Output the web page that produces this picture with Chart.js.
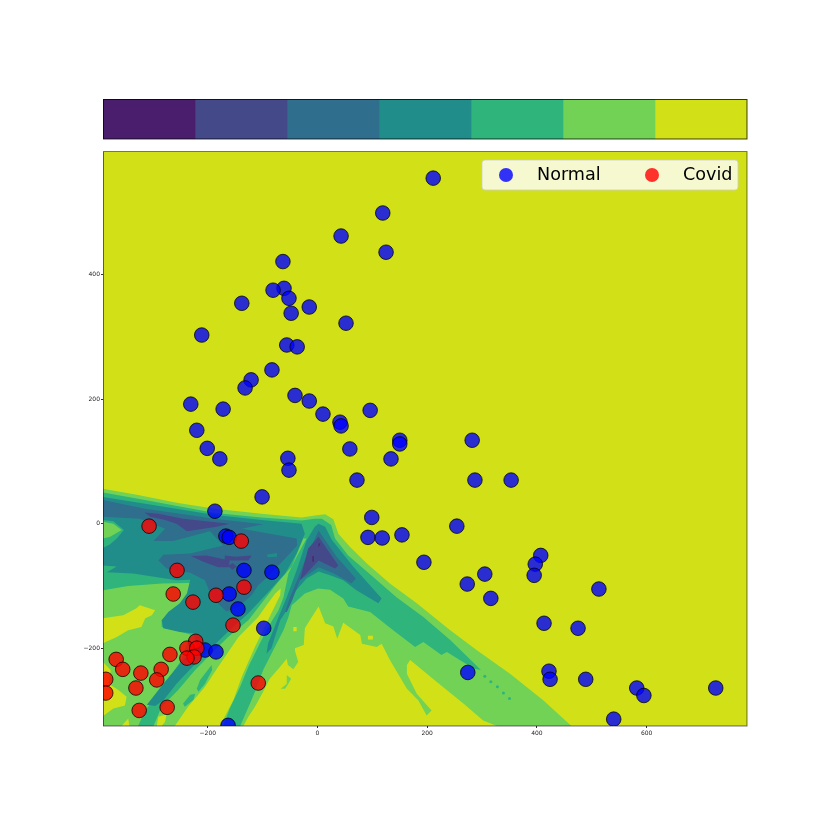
<!DOCTYPE html>
<html>
<head>
<meta charset="utf-8">
<title>Normal / Covid</title>
<script src="https://cdn.jsdelivr.net/npm/chart.js@4/dist/chart.umd.min.js"></script>
<style>
    html, body { margin: 0; padding: 0; background: #fff; }
    #wrap { position: relative; width: 830px; height: 830px; }
    canvas { position: absolute; left: 0; top: 0; }
</style>
</head>
<body>
<div id="wrap">
    <canvas id="mainChart" width="830" height="830"></canvas>
    <canvas id="barChart" width="830" height="150"></canvas>
</div>
<script>
// scatter points
const normalPoints = [
    [211,555],[119,499],[125,436],[43,462],[-63,421],[-61,378],[-81,375],[-52,362],[-48,338],[-15,348],
    [52,322],[-138,354],[-211,303],[-56,287],[-37,284],[-83,247],[-121,231],[-132,218],[-41,206],[-15,197],
    [10,176],[-231,192],[-172,184],[-220,150],[-201,121],[-178,104],[41,163],[43,157],[96,182],[150,134],
    [150,128],[59,120],[134,104],[-54,105],[-52,86],[72,70],[282,134],[287,70],[353,70],[-101,43],
    [-187,20],[99,10],[254,-4],[92,-22],[118,-23],[154,-18],[194,-62],[407,-51],[397,-65],[395,-83],
    [273,-97],[305,-81],[316,-120],[513,-105],[413,-160],[475,-168],[422,-237],[424,-250],[489,-250],[274,-239],
    [582,-264],[595,-276],[726,-264],[540,-314],[-163,-324],[-167,-20],[-161,-22],[-134,-75],[-83,-78],[-161,-113],
    [-145,-137],[-98,-168],[-205,-203],[-185,-206]
];
const covidPoints = [
    [-307,-4],[-139,-28],[-256,-75],[-263,-113],[-185,-115],[-134,-102],[-227,-126],[-154,-163],[-222,-189],[-238,-200],
    [-220,-200],[-225,-214],[-238,-216],[-269,-210],[-367,-218],[-355,-234],[-322,-240],[-285,-234],[-293,-251],[-386,-250],
    [-386,-272],[-331,-264],[-325,-300],[-274,-295],[-108,-256]
];

// axis
const xRange = [-391, 783];
const yRange = [-325, 597];
const xTicks = [-200, 0, 200, 400, 600];
const yTicks = [-200, 0, 200, 400];

// colorbar levels, dark to bright
const levelColors = ['#4a1e6c', '#44498a', '#306e8e', '#218d8a', '#2fb47c', '#72d256', '#d2e117'];
const levelWidths = [1, 1, 1, 1, 1, 1, 1];

// contour outlines in data units
const backgroundBand = [[-391,-325],[-391,597],[783,597],[783,-325]];
const band6Outer = [
    [-391,56],[-327,46],[-254,33],[-187,24],[-102,16],[-29,10],[-5,13],[14,15],[29,7],[38,-16],[59,-37],[90,-64],
    [132,-96],[181,-128],[242,-171],[290,-203],[351,-241],[412,-284],[463,-325],[327,-325],[302,-316],[266,-289],
    [217,-254],[169,-219],[163,-227],[163,-241],[181,-273],[208,-300],[199,-308],[184,-284],[163,-265],[132,-219],
    [117,-193],[108,-198],[81,-193],[78,-179],[47,-159],[36,-185],[29,-165],[14,-160],[2,-133],[-14,-155],[-23,-168],
    [-25,-195],[-41,-200],[-41,-204],[-35,-222],[-44,-234],[-54,-227],[-56,-217],[-68,-230],[-87,-249],[-99,-270],
    [-114,-294],[-126,-310],[-135,-325],[-391,-325]
];
const band6Blob = [[-67,-265],[-56,-257],[-56,-243],[-48,-249],[-53,-257],[-59,-265]];
const yellowWedge = [
    [-67,-104],[-77,-112],[-93,-131],[-108,-150],[-126,-166],[-144,-182],[-181,-230],[-205,-262],[-236,-294],[-260,-325],
    [-178,-325],[-153,-283],[-138,-246],[-114,-198],[-93,-160],[-68,-115]
];
const yellowSpot = [[-44,-166],[-38,-166],[-38,-173],[-44,-173]];
const yellowSpotRight = [[92,-180],[101,-180],[101,-186],[92,-186]];
const yellowLeftA = [
    [-391,-152],[-354,-147],[-330,-136],[-324,-131],[-296,-139],[-302,-147],[-314,-152],[-321,-166],[-345,-171],[-366,-182],[-391,-192]
];
const yellowLeftB = [[-391,-222],[-377,-235],[-381,-257],[-363,-267],[-348,-278],[-351,-292],[-372,-297],[-391,-309]];
const yellowBottomA = [[-357,-325],[-345,-313],[-343,-325]];
const yellowBottomB = [[-293,-325],[-290,-310],[-275,-306],[-278,-318],[-284,-325]];
const band5Main = [
    [-391,50],[-327,40],[-187,17],[-102,10],[-29,5],[-5,8],[8,8],[25,-2],[32,-24],[56,-51],[90,-77],[144,-118],[193,-150],
    [242,-187],[298,-235],[285,-233],[236,-206],[226,-211],[193,-190],[178,-198],[138,-171],[96,-142],[56,-133],[47,-120],
    [23,-106],[1,-104],[-23,-112],[-47,-131],[-53,-150],[-62,-171],[-84,-209],[-99,-235],[-114,-270],[-123,-289],[-135,-313],
    [-141,-325],[-172,-325],[-160,-297],[-141,-262],[-126,-230],[-105,-192],[-90,-166],[-71,-139],[-62,-118],[-53,-80],[-38,-53],
    [-20,-24],[-26,-24],[-47,-69],[-74,-96],[-102,-128],[-126,-155],[-163,-182],[-193,-208],[-223,-235],[-254,-267],[-284,-294],
    [-299,-325],[-327,-325],[-314,-300],[-290,-273],[-269,-246],[-248,-219],[-232,-178],[-260,-171],[-284,-166],[-284,-155],
    [-263,-139],[-229,-115],[-215,-95],[-284,-96],[-345,-100],[-391,-107]
];
const band5PatchA = [[-220,-265],[-214,-251],[-193,-227],[-192,-235],[-205,-257],[-217,-270]];
const band5PatchB = [[-245,-289],[-232,-275],[-223,-273],[-226,-283],[-242,-294]];
const band5TailDots = [[305,-245],[316,-254],[328,-262],[339,-272],[350,-281]];
const band4Left = [
    [-391,43],[-314,32],[-187,14],[-102,6],[-29,0],[-23,-16],[-38,-48],[-59,-80],[-90,-110],[-126,-144],[-166,-176],[-214,-217],
    [-257,-257],[-281,-284],[-296,-293],[-311,-291],[-281,-257],[-248,-222],[-220,-195],[-226,-176],[-251,-174],[-281,-168],
    [-284,-155],[-272,-142],[-251,-128],[-238,-112],[-232,-90],[-257,-91],[-336,-80],[-384,-78],[-366,-69],[-391,-67]
];
const band4Right = [
    [2,0],[14,-5],[26,-26],[65,-69],[117,-120],[111,-128],[71,-107],[47,-91],[23,-83],[2,-77],[-20,-88],[-44,-112],[-56,-139],
    [-68,-155],[-84,-200],[-93,-209],[-90,-192],[-71,-150],[-56,-118],[-38,-75],[-20,-27],[-5,-5]
];
const band5Hole = [[-391,6],[-372,4],[-353,-10],[-366,-24],[-378,-33],[-391,-39]];
const band6LeftBlob = [[-391,3],[-372,0],[-357,-10],[-378,-21],[-391,-24]];
const band3Left = [
    [-391,38],[-314,24],[-187,8],[-99,-1],[-138,-8],[-38,-24],[-37,-35],[-59,-56],[-90,-85],[-108,-99],[-120,-115],[-144,-134],
    [-166,-141],[-193,-118],[-205,-91],[-232,-79],[-275,-72],[-290,-59],[-281,-50],[-232,-48],[-172,-35],[-196,-12],[-263,-28],
    [-299,-28],[-278,-8],[-324,8],[-391,11]
];
const band3Right = [
    [2,-11],[35,-53],[70,-88],[62,-96],[30,-80],[2,-70],[-32,-91],[-47,-125],[-56,-142],[-59,-142],[-50,-118],[-38,-93],[-23,-59]
];
const band4Patch = [[-93,-50],[-74,-47],[-74,-53],[-90,-54]];
const band2A = [[-315,18],[-290,16],[-245,8],[-160,0],[-184,-5],[-238,-12],[-257,0],[-278,6],[-305,11]];
const band2B = [[-231,-52],[-202,-51],[-160,-59],[-162,-70],[-181,-70],[-208,-61]];
const band2C = [[-169,-51],[-150,-53],[-120,-51],[-126,-59],[-147,-59],[-169,-59]];
const band2D = [[-163,-68],[-155,-63],[-147,-69],[-155,-74]];
const band2Right = [[2,-21],[38,-67],[32,-72],[2,-59],[-32,-91],[-17,-40]];
const band1A = [[2,-32],[5,-32],[2,-38]];
const band1B = [[-9,-52],[-7,-52],[-7,-61],[-9,-61]];

// painted back to front, each one covers what lies below
const contourLayers = [
    [backgroundBand, 6], [band6Outer, 5], [band6Blob, 5], [yellowWedge, 6], [yellowSpot, 6], [yellowSpotRight, 6], [yellowLeftA, 6], [yellowLeftB, 6],
    [yellowBottomA, 6], [yellowBottomB, 6], [band5Main, 4], [band5PatchA, 4], [band5PatchB, 4], [band4Left, 3], [band4Right, 3],
    [band5Hole, 4], [band6LeftBlob, 5], [band3Left, 2], [band3Right, 2], [band4Patch, 3], [band2A, 1], [band2B, 1], [band2C, 1],
    [band2D, 1], [band2Right, 1], [band1A, 0], [band1B, 0]
];

const normalColor = 'rgba(0, 0, 255, 0.8)';
const covidColor = 'rgba(255, 0, 0, 0.8)';
const edgeColor = 'rgba(0, 0, 0, 0.75)';

// frame all around the plot area, colour comes per chart
const framePlugin = {
    id: 'frame',
    afterDraw(chart, args, opts) {
        const a = chart.chartArea;
        const ctx = chart.ctx;
        ctx.save();
        ctx.strokeStyle = opts.color;
        ctx.lineWidth = 1;
        ctx.strokeRect(a.left + 0.5, a.top + opts.shift, a.right - a.left - 0.5, a.bottom - a.top - opts.shift);
        ctx.restore();
    }
};

// matplotlib style legend box, has to sit above the filled contours
const legendPlugin = {
    id: 'boxLegend',
    afterDraw(chart) {
        const ctx = chart.ctx;
        const sets = chart.data.datasets;
        ctx.save();
        ctx.beginPath();
        ctx.roundRect(482, 160, 256, 30, 3);
        ctx.fillStyle = 'rgba(255, 255, 255, 0.8)';
        ctx.fill();
        ctx.strokeStyle = 'rgba(204, 204, 204, 0.8)';
        ctx.stroke();
        const entries = [[sets[sets.length - 2], 506, 537], [sets[sets.length - 1], 652, 683]];
        entries.forEach(([ds, mx, tx]) => {
            ctx.beginPath();
            ctx.arc(mx, 175, 7, 0, Math.PI * 2);
            ctx.fillStyle = ds.backgroundColor;
            ctx.fill();
            ctx.fillStyle = '#000';
            ctx.font = '17.6px "DejaVu Sans"';
            ctx.textBaseline = 'middle';
            ctx.fillText(ds.label, tx, 175);
        });
        ctx.restore();
    }
};

// chart.js paints high order first
const contourSets = contourLayers.map(([outline, level], i) => ({
    label: 'band',
    data: outline,
    showLine: true,
    fill: 'shape',
    backgroundColor: levelColors[level],
    borderWidth: 0,
    pointRadius: 0,
    tension: 0,
    order: 3 + contourLayers.length - i
}));

function tickText(value) {
    return String(value).replace('-', '\u2212');
}

new Chart(document.getElementById('mainChart'), {
    type: 'scatter',
    data: {
        datasets: contourSets.concat([
            { label: 'tail', data: band5TailDots, backgroundColor: levelColors[4], borderWidth: 0, pointRadius: 1.5, order: 2 },
            { label: 'Normal', data: normalPoints, backgroundColor: normalColor, borderColor: edgeColor, borderWidth: 1, pointRadius: 7.3, order: 1 },
            { label: 'Covid', data: covidPoints, backgroundColor: covidColor, borderColor: edgeColor, borderWidth: 1, pointRadius: 7.3, order: 0 }
        ])
    },
    options: {
        responsive: false,
        animation: false,
        layout: { padding: { left: 0, top: 152, right: 83, bottom: 0 } },
        plugins: { legend: { display: false }, tooltip: { enabled: false }, frame: { color: 'rgba(0, 0, 0, 0.55)', shift: -0.5 } },
        scales: {
            x: {
                type: 'linear',
                min: xRange[0],
                max: xRange[1],
                afterBuildTicks(scale) { scale.ticks = xTicks.map(v => ({ value: v })); },
                afterFit(scale) { scale.height = 104; },
                grid: { drawOnChartArea: false, color: '#333', tickLength: 2 },
                border: { display: false },
                ticks: { color: '#222', font: { family: 'DejaVu Sans', size: 6 }, padding: 2, maxRotation: 0, callback: tickText }
            },
            y: {
                type: 'linear',
                min: yRange[0],
                max: yRange[1],
                afterBuildTicks(scale) { scale.ticks = yTicks.map(v => ({ value: v })); },
                afterFit(scale) { scale.width = 103; },
                grid: { drawOnChartArea: false, color: '#333', tickLength: 2 },
                border: { display: false },
                ticks: { color: '#222', font: { family: 'DejaVu Sans', size: 6 }, padding: 1, callback: tickText }
            }
        }
    },
    plugins: [framePlugin, legendPlugin]
});

// colorbar on top, one stacked bar per level
new Chart(document.getElementById('barChart'), {
    type: 'bar',
    data: {
        labels: [''],
        datasets: levelColors.map((c, i) => ({
            label: 'level ' + i,
            data: [levelWidths[i]],
            backgroundColor: c,
            borderWidth: 0,
            barPercentage: 1,
            categoryPercentage: 1
        }))
    },
    options: {
        indexAxis: 'y',
        responsive: false,
        animation: false,
        layout: { padding: { left: 103, top: 99, right: 83, bottom: 11 } },
        plugins: { legend: { display: false }, tooltip: { enabled: false }, frame: { color: 'rgba(0, 0, 0, 0.75)', shift: 0.5 } },
        scales: {
            x: { stacked: true, min: 0, max: 7, display: false },
            y: { stacked: true, display: false }
        }
    },
    plugins: [framePlugin]
});
</script>
</body>
</html>
